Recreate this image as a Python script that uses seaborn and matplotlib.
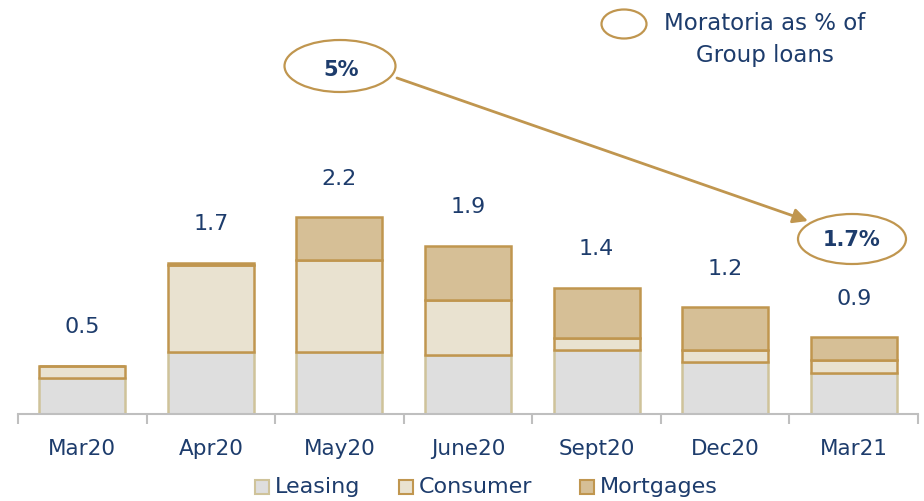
import numpy as np
import pandas as pd
import matplotlib
matplotlib.use("Agg")
import matplotlib.pyplot as plt
from matplotlib.patches import Ellipse, Rectangle
import seaborn as sns

categories = ["Mar20", "Apr20", "May20", "June20", "Sept20", "Dec20", "Mar21"]
leasing = [0.40, 0.69, 0.69, 0.66, 0.72, 0.58, 0.46]
consumer = [0.14, 0.97, 1.03, 0.61, 0.13, 0.13, 0.14]
mortgages = [0.00, 0.03, 0.48, 0.61, 0.56, 0.48, 0.26]
total_labels = ["0.5", "1.7", "2.2", "1.9", "1.4", "1.2", "0.9"]
start_pct = "5%"
end_pct = "1.7%"
series_names = ["Leasing", "Consumer", "Mortgages"]

sns.set_theme(style="white")
plt.rcParams["font.family"] = ["DejaVu Sans"]

navy = "#1D3C6C"
gold = "#C0964F"
pale_edge = "#CFC39A"
fills = ["#DEDEDE", "#E9E2D0", "#D6BF96"]
edges = [pale_edge, gold, gold]

fig = plt.figure(figsize=(9.24, 5.01), dpi=100)
W, H = 924, 501
ax = fig.add_axes([18 / W, 87 / H, 900 / W, 414 / H])

df = pd.DataFrame({"cat": categories, "Leasing": leasing,
                   "Consumer": consumer, "Mortgages": mortgages})
bottoms = np.zeros(len(categories))
for name, fc, ec in zip(series_names, fills, edges):
    vals = df[name].to_numpy()
    sns.barplot(x=df["cat"], y=vals, bottom=bottoms, color=fc, edgecolor=ec,
                linewidth=1.8, width=0.67, saturation=1, ax=ax, zorder=2)
    bottoms = bottoms + vals

ax.set_xlim(-0.5, len(categories) - 0.5)
ax.set_ylim(0, 414 / 89.5)
ax.set_xlabel("")
ax.set_ylabel("")
ax.set_yticks([])
for s in ["top", "right", "left"]:
    ax.spines[s].set_visible(False)
ax.spines["bottom"].set_color("#BFBFBF")
ax.spines["bottom"].set_linewidth(1.5)
ax.set_xticks(np.arange(-0.5, len(categories), 1.0), minor=False)
ax.set_xticklabels([])
ax.tick_params(axis="x", which="major", length=7, width=1.5, color="#BFBFBF", bottom=True)
ax.set_xticks(np.arange(len(categories)), minor=True)
ax.set_xticklabels(categories, minor=True)
ax.tick_params(axis="x", which="minor", length=0, pad=18, labelsize=15.5, labelcolor=navy)

for i, lab in enumerate(total_labels):
    ax.text(i, bottoms[i] + 0.43, lab, ha="center", va="center", fontsize=16, color=navy)

# overlay axes in pixel coordinates for annotations
ov = fig.add_axes([0, 0, 1, 1])
ov.set_xlim(0, W)
ov.set_ylim(H, 0)
ov.axis("off")
ov.patch.set_alpha(0)

ov.add_patch(Ellipse((340, 66), 111, 52, fill=False, edgecolor=gold, lw=1.6))
ov.text(341, 70, start_pct, ha="center", va="center", fontsize=15, fontweight="bold", color=navy)
ov.add_patch(Ellipse((852, 239), 108, 50, fill=False, edgecolor=gold, lw=1.6))
ov.text(852, 240, end_pct, ha="center", va="center", fontsize=15, fontweight="bold", color=navy)
ov.annotate("", xy=(808, 221), xytext=(397, 78),
            arrowprops=dict(arrowstyle="-|>", color=gold, lw=2, mutation_scale=22,
                            shrinkA=0, shrinkB=0))

ov.add_patch(Ellipse((624, 24), 45, 29, fill=False, edgecolor=gold, lw=1.6))
ov.text(765, 23, "Moratoria as % of", ha="center", va="center", fontsize=16.5, color=navy)
ov.text(765, 55, "Group loans", ha="center", va="center", fontsize=16.5, color=navy)

# bottom legend
leg_x = [262, 406, 587]
for x0, name, fc, ec in zip(leg_x, series_names, fills, edges):
    ov.add_patch(Rectangle((x0 - 7, 480), 14, 14, facecolor=fc, edgecolor=ec, lw=1.5))
    ov.text(x0 + 13, 487, name, ha="left", va="center", fontsize=16, color=navy)

fig.savefig("out.png", dpi=100)
